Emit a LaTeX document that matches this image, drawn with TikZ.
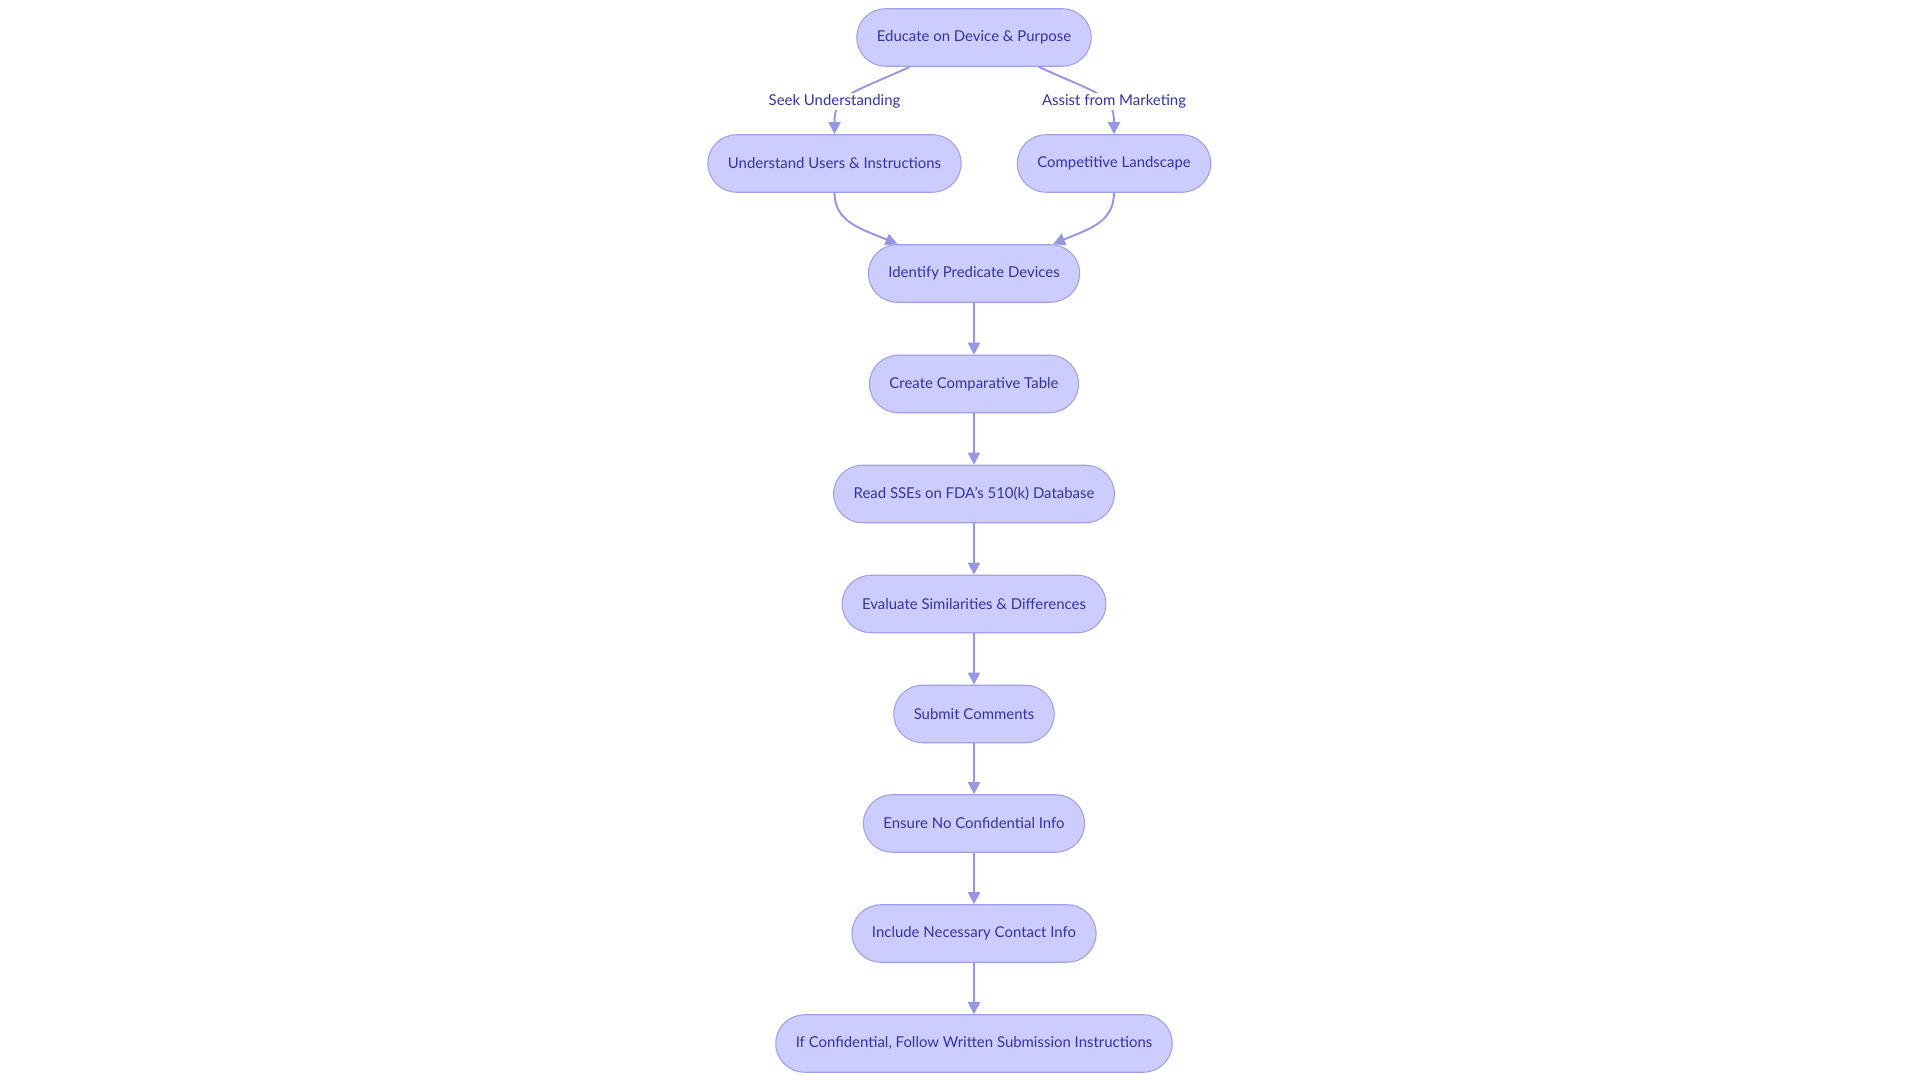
\documentclass[tikz,border=0pt]{standalone}
\usepackage{fontspec}
\setmainfont{Lato}
\usepackage{xcolor}
\usetikzlibrary{positioning,arrows.meta}
\definecolor{stepfill}{RGB}{204,204,255}
\definecolor{stepline}{RGB}{160,160,232}
\definecolor{steptext}{RGB}{52,52,160}
\definecolor{flowline}{RGB}{150,150,228}

\begin{document}
\begin{tikzpicture}[
  every node/.style={font=\fontsize{8.5}{10}\selectfont,text=steptext},
  stepbox/.style={draw=stepline,line width=0.6pt,fill=stepfill,rounded corners=0.575cm,
    minimum height=1.15cm,inner xsep=0.4cm,align=center},
  flow/.style={draw=flowline,line width=1.1pt,-{Triangle[length=0.24cm,width=0.24cm]}},
  lbl/.style={fill=white,inner sep=1pt}
]
  \useasboundingbox (0,0) rectangle (38.4,21.6);

  \node[stepbox] (edu) at (19.48,20.85) {Educate on Device \& Purpose};

  \node[stepbox] (und) at (16.69,18.33) {Understand Users \& Instructions};
  \node[stepbox] (comp) at (22.28,18.33) {Competitive Landscape};

  \node[stepbox] (pred) at (19.48,16.13) {Identify Predicate Devices};
  \node[stepbox] (table) at (19.48,13.92) {Create Comparative Table};
  \node[stepbox] (sse) at (19.48,11.72) {Read SSEs on FDA's 510(k) Database};
  \node[stepbox] (eval) at (19.48,9.52) {Evaluate Similarities \& Differences};
  \node[stepbox] (sub) at (19.48,7.32) {Submit Comments};
  \node[stepbox] (conf) at (19.48,5.13) {Ensure No Confidential Info};
  \node[stepbox] (cont) at (19.48,2.93) {Include Necessary Contact Info};
  \node[stepbox] (writ) at (19.48,0.73) {If Confidential, Follow Written Submission Instructions};

  % branches at the top
  \draw[flow] ([xshift=-1.28cm]edu.south) .. controls +(-1.2,-0.55) and +(0,0.8) .. (und.north);
  \draw[flow] ([xshift=1.29cm]edu.south) .. controls +(1.2,-0.55) and +(0,0.8) .. (comp.north);
  \node[lbl] (seek) at (16.69,19.57) {Seek Understanding};
  \node[lbl] (mkt) at (22.28,19.57) {Assist from Marketing};

  \draw[flow] (und.south) .. controls +(0,-0.6) and +(-0.7,0.3) .. ([xshift=-1.53cm]pred.north);
  \draw[flow] (comp.south) .. controls +(0,-0.6) and +(0.7,0.3) .. ([xshift=1.58cm]pred.north);

  % main chain
  \draw[flow] (pred) -- (table);
  \draw[flow] (table) -- (sse);
  \draw[flow] (sse) -- (eval);
  \draw[flow] (eval) -- (sub);
  \draw[flow] (sub) -- (conf);
  \draw[flow] (conf) -- (cont);
  \draw[flow] (cont) -- (writ);
\end{tikzpicture}
\end{document}
